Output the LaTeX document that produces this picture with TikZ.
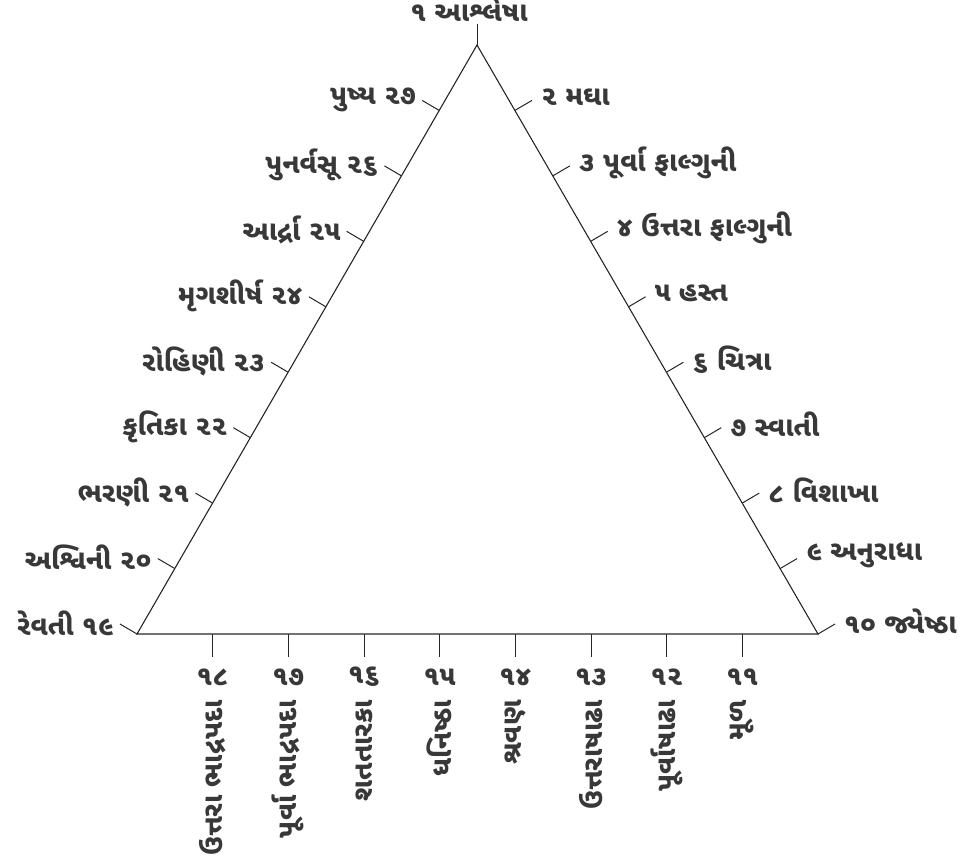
\documentclass[tikz,border=0pt]{standalone}
\usepackage{fontspec}
\newfontfamily\guj[Script=Gujarati]{Noto Sans Gujarati UI}
\usetikzlibrary{calc}
\begin{document}
\begin{tikzpicture}[x=1pt,y=-1pt,
  edge/.style={draw=black!85,line width=1.1pt},
  tick/.style={draw=black!85,line width=1pt},
  lbl/.style={font=\guj\bfseries\fontsize{27.5}{32}\selectfont,text=black!78,inner sep=0pt}]
\useasboundingbox (0,0) rectangle (960,863);
\coordinate (A) at (477,45);
\coordinate (L) at (137,634);
\coordinate (R) at (818,634);
\draw[edge,line join=miter] (A) -- (L) -- (R) -- cycle;
% apex
\coordinate (At) at (477,24);
\draw[tick] (A) -- (At);
\node[lbl,anchor=south] (n1) at ($(At)+(-8,-2)$) {૧ આશ્લેષા};
% left side
\foreach \k/\t in {1/પુષ્ય ૨૭,2/પુનર્વસૂ ૨૬,3/આર્દ્રા ૨૫,4/મૃગશીર્ષ ૨૪,5/રોહિણી ૨૩,6/કૃતિકા ૨૨,7/ભરણી ૨૧,8/અશ્વિની ૨૦,9/રેવતી ૧૯}{
  \coordinate (lp\k) at ($(A)!\k/9!(L)$);
  \coordinate (lq\k) at ($(lp\k)+(-17,-10)$);
  \draw[tick] (lp\k) -- (lq\k);
  \node[lbl,anchor=east] (ln\k) at ($(lq\k)+(-6,-1)$) {\t};
}
% right side
\foreach \k/\t in {1/૨ મઘા,2/૩ પૂર્વા ફાલ્ગુની,3/૪ ઉત્તરા ફાલ્ગુની,4/૫ હસ્ત,5/૬ ચિત્રા,6/૭ સ્વાતી,7/૮ વિશાખા,8/૯ અનુરાધા,9/૧૦ જ્યેષ્ઠા}{
  \coordinate (rp\k) at ($(A)!\k/9!(R)$);
  \coordinate (rq\k) at ($(rp\k)+(17,-10)$);
  \draw[tick] (rp\k) -- (rq\k);
  \node[lbl,anchor=west] (rn\k) at ($(rq\k)+(9,-3)$) {\t};
}
% bottom
\foreach \k/\n/\t in {1/૧૮/ઉત્તરા ભાદ્રપદા,2/૧૭/પૂર્વા ભાદ્રપદા,3/૧૬/શતતારકા,4/૧૫/ધનિષ્ઠા,5/૧૪/શ્રવણ,6/૧૩/ઉત્તરાષાઢા,7/૧૨/પૂર્વાષાઢા,8/૧૧/મૂળ}{
  \coordinate (bp\k) at ($(L)!\k/9!(R)$);
  \coordinate (bq\k) at ($(bp\k)+(0,23)$);
  \draw[tick] (bp\k) -- (bq\k);
  \node[lbl] (bn\k) at ($(bp\k)+(0,43)$) {\n};
  \node[lbl,rotate=90,anchor=east] (bt\k) at ($(bp\k)+(0,66)$) {\t};
}
\end{tikzpicture}
\end{document}
